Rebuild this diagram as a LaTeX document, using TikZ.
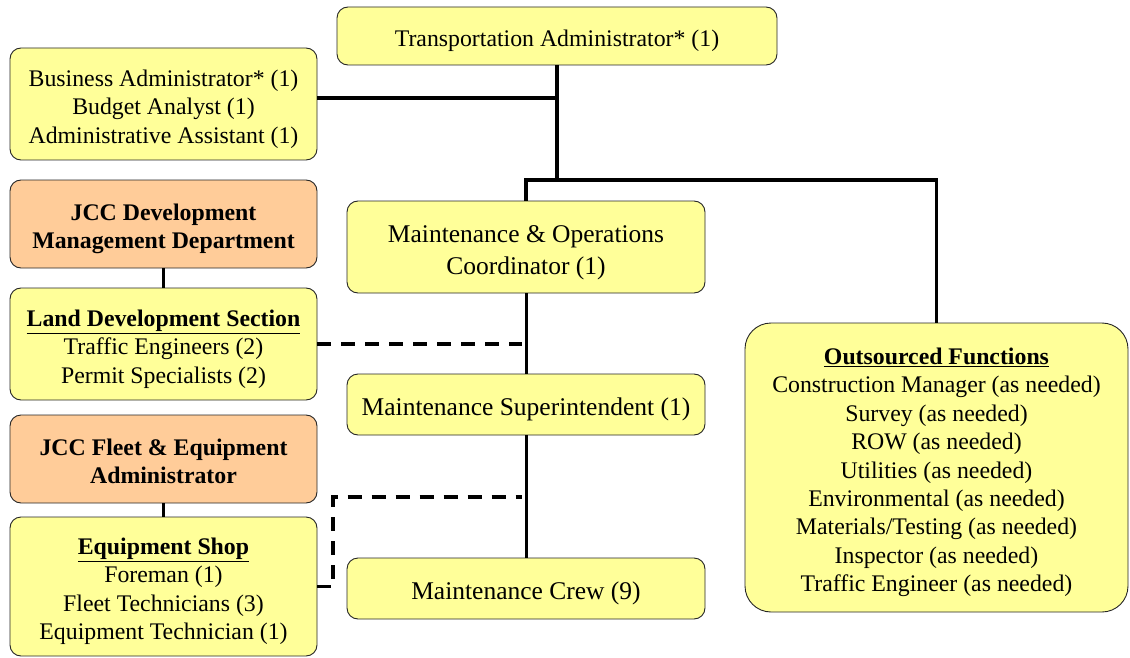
\documentclass[tikz,border=0pt]{standalone}
\usepackage{fontspec}
\setmainfont{Liberation Serif}
% centred stack of lines, set a little low inside its box
\newcommand\lowered[1]{\raisebox{-5pt}[\height][\depth]{\begin{tabular}{@{}c@{}}#1\end{tabular}}}
\begin{document}
\begin{tikzpicture}[x=1pt,y=-1pt,
  box/.style={draw=black!85, line width=0.9pt, rounded corners=11pt, fill=boxyellow,
    inner sep=0pt, outer sep=0pt, font=\fontsize{23.8}{28.4}\selectfont},
  obox/.style={box, fill=boxorange, font=\fontsize{23.8}{28.4}\selectfont\bfseries},
  bigbox/.style={box, font=\fontsize{25.5}{32}\selectfont},
  link/.style={line width=3.5pt},
  thinlink/.style={line width=3pt},
  dlink/.style={line width=3.5pt, dash pattern=on 14pt off 10pt}]
\definecolor{boxyellow}{HTML}{FFFF99}
\definecolor{boxorange}{HTML}{FFCC99}
\useasboundingbox (0,0) rectangle (1130,658);

% top row and staff box
\node[box, minimum width=440, minimum height=58] (ta) at (557,36)
  {\lowered{Transportation Administrator* (1)}};
\node[box, minimum width=307, minimum height=112] (ba) at (163.5,104)
  {\lowered{Business Administrator* (1)\\Budget Analyst (1)\\Administrative Assistant (1)}};

% left column: county departments and their sections
\node[obox, minimum width=307, minimum height=88] (jdev) at (163.5,224)
  {\lowered{JCC Development\\Management Department}};
\node[box, minimum width=307, minimum height=112] (land) at (163.5,344)
  {\lowered{\textbf{\underline{Land Development Section}}\\Traffic Engineers (2)\\Permit Specialists (2)}};
\node[obox, minimum width=307, minimum height=88] (fleet) at (163.5,459)
  {\lowered{JCC Fleet \& Equipment\\Administrator}};
\node[box, minimum width=307, minimum height=139] (shop) at (163.5,586.5)
  {\lowered{\textbf{\underline{Equipment Shop}}\\Foreman (1)\\Fleet Technicians (3)\\Equipment Technician (1)}};

% middle column: maintenance chain
\node[bigbox, minimum width=358, minimum height=92] (moc) at (526,247)
  {\lowered{Maintenance \& Operations\\Coordinator (1)}};
\node[bigbox, minimum width=358, minimum height=61] (sup) at (526,404.5)
  {\lowered{Maintenance Superintendent (1)}};
\node[bigbox, minimum width=358, minimum height=61] (crew) at (526,588.5)
  {\lowered{Maintenance Crew (9)}};

% right column: outsourced work
\node[box, rounded corners=26pt, minimum width=383, minimum height=289] (out) at (936.5,467.5)
  {\lowered{\textbf{\underline{Outsourced Functions}}\\Construction Manager (as needed)\\Survey (as needed)\\ROW (as needed)\\Utilities (as needed)\\Environmental (as needed)\\Materials/Testing (as needed)\\Inspector (as needed)\\Traffic Engineer (as needed)}};

% junction points
\coordinate (j1) at (557,98);
\coordinate (j2) at (557,180);
\coordinate (k) at (333,497);

% reporting lines
\draw[link] (ta.south) -- (j2);
\draw[link] (ba.east |- j1) -- (j1);
\draw[link] (moc.north) |- (out.north |- j2) -- (out.north);
\draw[thinlink] (moc.south) -- (sup.north);
\draw[thinlink] (sup.south) -- (crew.north);
\draw[thinlink] (jdev.south) -- (land.north);
\draw[thinlink] (fleet.south) -- (shop.north);

% coordination lines
\draw[dlink] (land.east) -- ([xshift=-4pt]moc.south |- land.east);
\draw[dlink] (shop.east) -| (k) -- ([xshift=-4pt]sup.south |- k);
\end{tikzpicture}
\end{document}
